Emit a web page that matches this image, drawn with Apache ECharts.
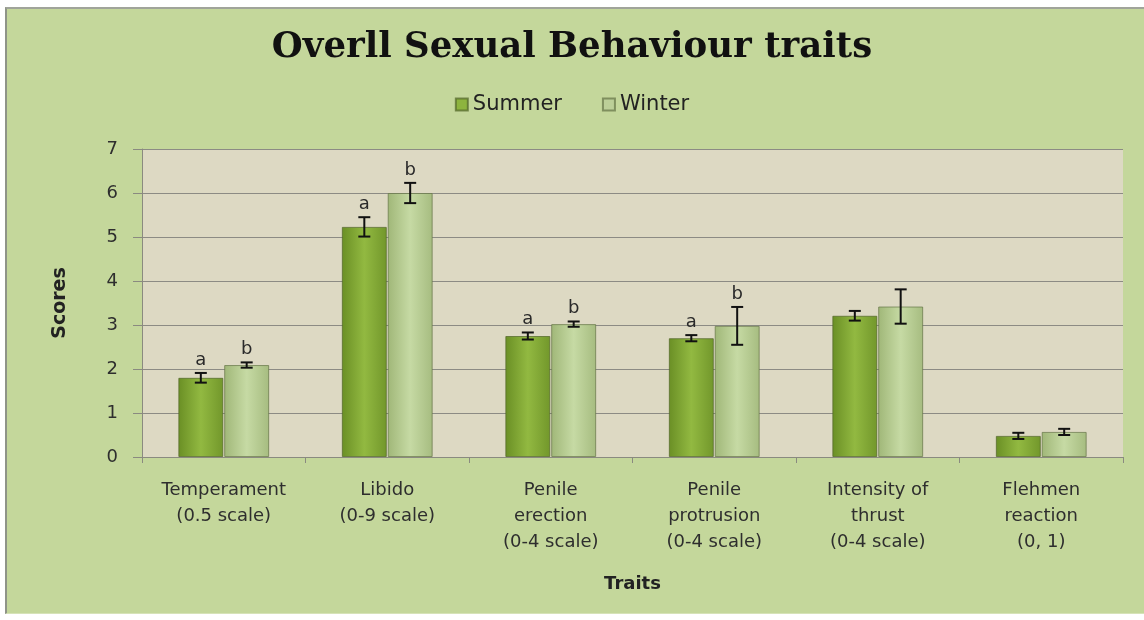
<!DOCTYPE html>
<html>
<head>
<meta charset="utf-8">
<script src="https://cdn.jsdelivr.net/npm/echarts@6/dist/echarts.min.js"></script>
<style>
html,body{margin:0;padding:0;background:#ffffff;}
#frame{position:absolute;left:5px;top:7px;width:1139px;height:607px;background:#c4d79b;border-left:2px solid #8f9488;border-top:2px solid #a0a49a;border-bottom:1px solid #d6e3b8;box-sizing:border-box;}
#c{position:absolute;left:0;top:0;width:1144px;height:620px;}
</style>
</head>
<body>
<div id="frame"></div>
<div id="c"></div>
<script>
var categories = ['Temperament\n(0.5 scale)', 'Libido\n(0-9 scale)', 'Penile\nerection\n(0-4 scale)', 'Penile\nprotrusion\n(0-4 scale)', 'Intensity of\nthrust\n(0-4 scale)', 'Flehmen\nreaction\n(0, 1)'];
var summer = [1.80, 5.23, 2.75, 2.70, 3.21, 0.48];
var winter = [2.09, 6.00, 3.02, 2.98, 3.42, 0.57];
var summerErr = [0.11, 0.22, 0.08, 0.07, 0.11, 0.07];
var winterErr = [0.06, 0.23, 0.06, 0.43, 0.39, 0.07];
var summerLetters = ['a', 'a', 'a', 'a', '', ''];
var winterLetters = ['b', 'b', 'b', 'b', '', ''];
var yTicks = [0, 1, 2, 3, 4, 5, 6, 7];

var BAR_PCT = 0.275, GAP_PCT = 0.02;
var FONT = 'DejaVu Sans';
var letters = [summerLetters, winterLetters];

function errData(vals, errs, lets) {
  return vals.map(function (v, i) { return [i, v, errs[i], lets[i]]; });
}

function makeRender(side) {
  return function (params, api) {
    var idx = api.value(0), v = api.value(1), e = api.value(2);
    var letter = letters[side][params.dataIndex];
    var bandW = api.size([1, 0])[0];
    var bw = bandW * BAR_PCT, gap = bw * GAP_PCT;
    var off = (bw + gap) / 2 * (side === 0 ? -1 : 1);
    var c = api.coord([idx, v]);
    var x = c[0] + off;
    var yHi = api.coord([idx, v + e])[1];
    var yLo = api.coord([idx, v - e])[1];
    var cap = 6;
    var st = { stroke: '#111', lineWidth: 2 };
    var children = [
      { type: 'line', shape: { x1: x, y1: yHi, x2: x, y2: yLo }, style: st },
      { type: 'line', shape: { x1: x - cap, y1: yHi, x2: x + cap, y2: yHi }, style: st },
      { type: 'line', shape: { x1: x - cap, y1: yLo, x2: x + cap, y2: yLo }, style: st }
    ];
    if (letter) {
      children.push({ type: 'text', style: { x: x, y: yHi - 4, text: letter, fill: '#2a2a2a', font: '18px "' + FONT + '"', textAlign: 'center', textVerticalAlign: 'bottom' } });
    }
    return { type: 'group', children: children };
  };
}

function grad(a, b, c) {
  return new echarts.graphic.LinearGradient(0, 0, 1, 0, [
    { offset: 0, color: a }, { offset: 0.5, color: b }, { offset: 1, color: c }
  ]);
}

var chart = echarts.init(document.getElementById('c'), null, { renderer: 'canvas' });
chart.setOption({
  backgroundColor: 'transparent',
  animation: false,
  textStyle: { fontFamily: FONT },
  title: {
    text: 'Overll Sexual Behaviour traits',
    left: 'center', top: 25,
    textStyle: { fontFamily: 'DejaVu Serif', fontWeight: 'bold', fontSize: 35.5, color: '#111' }
  },
  legend: {
    top: 89, left: 'center', icon: 'rect', itemWidth: 12, itemHeight: 12, itemGap: 40,
    textStyle: { fontFamily: FONT, fontSize: 21, color: '#222' },
    data: [
      { name: 'Summer', itemStyle: { color: '#8db43e' } },
      { name: 'Winter', itemStyle: { color: '#bccf98' } }
    ]
  },
  grid: { left: 142, top: 149, right: 21, bottom: 163, show: true, backgroundColor: '#ddd9c3', borderWidth: 0 },
  xAxis: {
    type: 'category', data: categories,
    name: 'Traits', nameLocation: 'middle', nameGap: 118,
    nameTextStyle: { fontFamily: FONT, fontWeight: 'bold', fontSize: 18, color: '#222' },
    axisLine: { lineStyle: { color: '#8a8a80', width: 1 } },
    axisTick: { show: true, length: 6, lineStyle: { color: '#8a8a80' } },
    axisLabel: { interval: 0, color: '#2e2e2e', fontSize: 18, lineHeight: 26, margin: 20 }
  },
  yAxis: {
    type: 'value', min: 0, max: 7, interval: 1,
    name: 'Scores', nameLocation: 'middle', nameGap: 72, nameRotate: 90,
    nameTextStyle: { fontFamily: FONT, fontWeight: 'bold', fontSize: 19, color: '#222' },
    axisLine: { show: true, lineStyle: { color: '#8a8a80', width: 1 } },
    axisTick: { show: true, length: 9, lineStyle: { color: '#8a8a80' } },
    axisLabel: {
      color: '#2e2e2e', fontSize: 18, margin: 24,
      formatter: function (v) { return yTicks.indexOf(v) >= 0 ? String(v) : ''; }
    },
    splitLine: { lineStyle: { color: '#8c8b84', width: 1.2 } }
  },
  series: [
    {
      name: 'Summer', type: 'bar', data: summer, barWidth: (BAR_PCT * 100) + '%', barGap: (GAP_PCT * 100) + '%',
      itemStyle: { color: grad('#6a8f25', '#92b941', '#72972b'), borderColor: 'rgba(80,100,40,0.7)', borderWidth: 1 }
    },
    {
      name: 'Winter', type: 'bar', data: winter, barWidth: (BAR_PCT * 100) + '%', barGap: (GAP_PCT * 100) + '%',
      itemStyle: { color: grad('#a0b778', '#c6daa4', '#a6bc80'), borderColor: 'rgba(100,115,70,0.7)', borderWidth: 1 }
    },
    { name: 'SummerErr', type: 'custom', renderItem: makeRender(0), data: errData(summer, summerErr, summerLetters), z: 5, silent: true },
    { name: 'WinterErr', type: 'custom', renderItem: makeRender(1), data: errData(winter, winterErr, winterLetters), z: 5, silent: true }
  ]
});
</script>
</body>
</html>
